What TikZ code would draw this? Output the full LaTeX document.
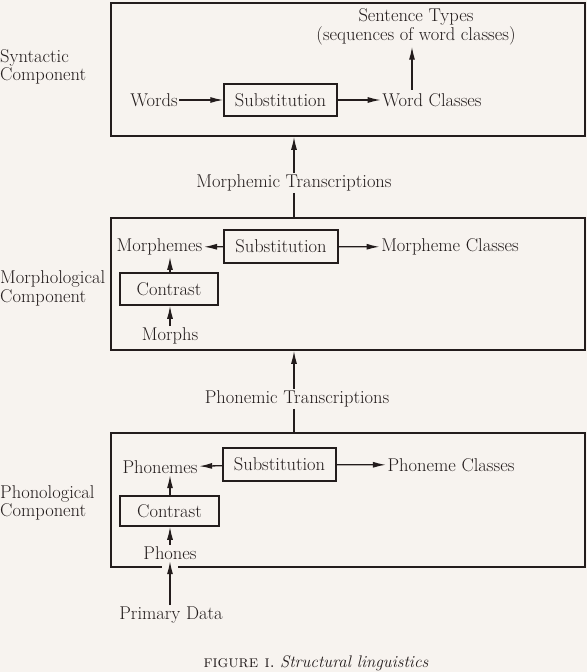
\documentclass[tikz,border=0pt]{standalone}
\usepackage{fontspec}
\usetikzlibrary{arrows.meta}
\definecolor{bg}{HTML}{F7F3EF}
\definecolor{ink}{HTML}{231C1C}
\tikzset{
  txt/.style={inner sep=1.5bp, text=ink, font=\fontsize{18.5bp}{18.5bp}\selectfont\addfontfeature{FakeBold=0.4}},
  lbl/.style={txt, align=left, anchor=west, inner sep=0pt},
  bigbox/.style={draw=ink, line width=1.6bp, minimum width=474bp, inner sep=0pt},
  procbox/.style={txt, draw=ink, line width=1.5bp, inner sep=0pt},
  arr/.style={draw=ink, line width=1.3bp, -{Latex[length=13bp,width=6bp]}},
  ln/.style={draw=ink, line width=1.3bp},
}
\begin{document}
\begin{tikzpicture}[x=1bp,y=-1bp]
\fill[bg] (0,0) rectangle (587,672);
\useasboundingbox (0,0) rectangle (587,672);

% ---------- big boxes
\node[bigbox, minimum height=133bp] (box1) at (348,69.5) {};
\node[bigbox, minimum height=132bp] (box2) at (348,284) {};
\node[bigbox, minimum height=134bp] (box3) at (348,500) {};

% ---------- side labels
\node[lbl] (synlab) at (0,67) {Syntactic\\Component};
\node[lbl] (morlab) at (0,288.5) {Morphological\\Component};
\node[lbl] (phlab) at (0,503) {Phonological\\Component};

% ---------- syntactic component
\node[txt] (words) at (154,100) {Words};
\node[procbox, minimum width=113bp, minimum height=32bp] (sub1) at (280.5,100) {Substitution};
\node[txt] (wc) at (432,100) {Word Classes};
\node[txt, align=center] (st) at (416,27) {Sentence Types\\(sequences of word classes)};
\coordinate (stb) at (412,90);
\draw[arr] (words) -- (sub1);
\draw[arr] (sub1) -- (wc);
\draw[arr] (stb) -- (stb |- st.south);

% ---------- morphemic transcriptions
\node[txt] (mt) at (294,183) {Morphemic Transcriptions};
\draw[arr] (mt.north) -- (mt.north |- box1.south);
\draw[ln] (mt.south) -- (mt.south |- box2.north);

% ---------- morphological component
\node[txt] (morphemes) at (159.5,247) {Morphemes};
\node[procbox, minimum width=114bp, minimum height=33bp] (sub2) at (281,246.5) {Substitution};
\node[txt] (mc) at (450,247) {Morpheme Classes};
\node[procbox, minimum width=98bp, minimum height=32bp] (con2) at (169,289) {Contrast};
\node[txt] (morphs) at (170,336) {Morphs};
\draw[arr] (sub2) -- (morphemes);
\draw[arr] (sub2) -- (mc);
\draw[arr] (con2.north -| 170,0) -- (morphemes.south -| 170,0);
\draw[arr] (morphs.north -| 170,0) -- (con2.south -| 170,0);

% ---------- phonemic transcriptions
\node[txt] (pt) at (297,399) {Phonemic Transcriptions};
\draw[arr] (pt.north -| 294,0) -- (box2.south -| 294,0);
\draw[ln] (pt.south -| 294,0) -- (box3.north -| 294,0);

% ---------- phonological component
\node[txt] (phonemes) at (160,467) {Phonemes};
\node[procbox, minimum width=113bp, minimum height=33bp] (sub3) at (279.5,464.5) {Substitution};
\node[txt] (pc) at (451,465) {Phoneme Classes};
\node[procbox, minimum width=99bp, minimum height=30bp] (con3) at (169.5,511) {Contrast};
\node[txt] (phones) at (170,553) {Phones};
\node[txt] (primary) at (171,615) {Primary Data};
\draw[arr] (sub3) -- (phonemes);
\draw[arr] (sub3) -- (pc);
\draw[arr] (con3.north -| 170,0) -- (phonemes.south -| 170,0);
\draw[arr] (phones.north -| 170,0) -- (con3.south -| 170,0);
\draw[arr, preaction={draw=bg, line width=16bp, -}] (primary.north -| 170,0) -- (phones.south -| 170,0);

% ---------- caption
\node[inner sep=1.5bp, text=ink, font=\fontsize{16.8bp}{18bp}\selectfont] (cap) at (316,663) {{\scshape\addfontfeature{LetterSpace=10}figure i.}\ \textit{Structural linguistics}};
\end{tikzpicture}
\end{document}
